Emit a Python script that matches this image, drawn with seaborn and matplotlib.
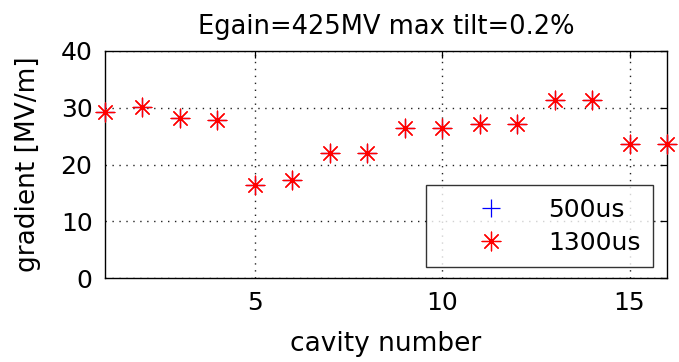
import matplotlib
matplotlib.use("Agg")
import matplotlib.pyplot as plt
from matplotlib.path import Path
import seaborn as sns
import pandas as pd
import numpy as np

# Cavity gradients measured at two pulse times
cavity = list(range(1, 17))
grad_500us = [29.3, 30.2, 28.2, 27.8, 16.3, 17.3, 22.1, 22.0,
              26.4, 26.4, 27.1, 27.1, 31.3, 31.3, 23.6, 23.6]
grad_1300us = [29.3, 30.2, 28.2, 27.8, 16.3, 17.3, 22.1, 22.0,
               26.4, 26.4, 27.1, 27.1, 31.3, 31.3, 23.6, 23.6]
series_labels = ["500us", "1300us"]
title = "Egain=425MV max tilt=0.2%"
xticks = [5, 10, 15]
yticks = [0, 10, 20, 30, 40]

sns.set_style("white")
plt.rcParams["font.family"] = ["DejaVu Sans"]
plt.rcParams.update({"text.color": "black", "axes.labelcolor": "black",
                     "xtick.color": "black", "ytick.color": "black"})

fig = plt.figure(figsize=(6.79, 3.62), dpi=100)
ax = fig.add_axes([105 / 679, 1 - 278 / 362, 562 / 679, 227 / 362])

df = pd.DataFrame({"cavity": cavity, "g500": grad_500us, "g1300": grad_1300us})

# eight-spoke asterisk with a small solid hub
asterisk = Path.make_compound_path(Path.unit_regular_asterisk(8),
                                   Path.circle((0, 0), radius=0.11))

sns.lineplot(data=df, x="cavity", y="g500", ax=ax, linestyle="", marker="+",
             markersize=13.5, markeredgewidth=0.9, color="#0000ff",
             markeredgecolor="#0000ff",
             label=series_labels[0], clip_on=False, zorder=3)
sns.lineplot(data=df, x="cavity", y="g1300", ax=ax, linestyle="", marker=asterisk,
             markersize=13.5, markeredgewidth=0.9, color="#ff0000",
             markeredgecolor="#ff0000", markerfacecolor="#e00000",
             label=series_labels[1], clip_on=False, zorder=4)

ax.set_xlim(1, 16)
ax.set_ylim(0, 40)
ax.set_xticks(xticks)
ax.set_yticks(yticks)
ax.grid(True, color="#222222", linestyle=(0, (1, 4)), linewidth=1.0)
for s in ax.spines.values():
    s.set_color("black")
    s.set_linewidth(1.0)
    s.set_visible(True)
ax.tick_params(direction="in", length=5, width=0.9, colors="black",
               top=True, right=True, labelsize=18, pad=9)

ax.set_xlabel("cavity number", fontsize=19, labelpad=12)
ax.set_ylabel("gradient [MV/m]", fontsize=19, labelpad=14)
ax.set_title(title, fontsize=18.5, pad=12, color="black")

leg = ax.legend(loc="lower right", bbox_to_anchor=((653 - 105) / 562, (278 - 267) / 227),
                borderaxespad=0, fontsize=18, frameon=True, fancybox=False,
                borderpad=0.5, handlelength=4.25, handletextpad=0.15,
                labelspacing=0.35)
leg.get_frame().set_edgecolor("black")
leg.get_frame().set_linewidth(1.0)
for t in leg.get_texts():
    t.set_color("black")

fig.savefig("out.png", dpi=100)
